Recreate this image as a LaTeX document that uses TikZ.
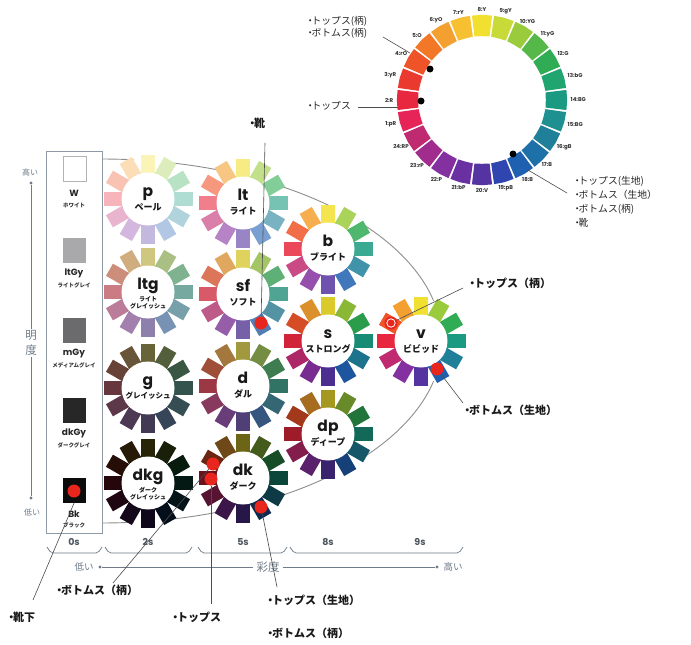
\documentclass[tikz,border=0pt]{standalone}
\usepackage{fontspec}
\setmainfont{Noto Sans CJK JP}
\newfontfamily\popf{Poppins}
\usetikzlibrary{calc}

\definecolor{h1}{HTML}{E62458}
\definecolor{h2}{HTML}{E8283E}
\definecolor{h3}{HTML}{EA3A30}
\definecolor{h4}{HTML}{EE5428}
\definecolor{h5}{HTML}{F27828}
\definecolor{h6}{HTML}{F4A030}
\definecolor{h7}{HTML}{F6C030}
\definecolor{h8}{HTML}{F2E030}
\definecolor{h9}{HTML}{C8DA38}
\definecolor{h10}{HTML}{9ACB3C}
\definecolor{h11}{HTML}{55B848}
\definecolor{h12}{HTML}{30AC55}
\definecolor{h13}{HTML}{20A470}
\definecolor{h14}{HTML}{1A9A80}
\definecolor{h15}{HTML}{1E9090}
\definecolor{h16}{HTML}{20809A}
\definecolor{h17}{HTML}{1E70A8}
\definecolor{h18}{HTML}{2060B0}
\definecolor{h19}{HTML}{2F45B0}
\definecolor{h20}{HTML}{5533A0}
\definecolor{h21}{HTML}{6A2FA0}
\definecolor{h22}{HTML}{8530A0}
\definecolor{h23}{HTML}{A02C8E}
\definecolor{h24}{HTML}{C02A70}
\definecolor{dotred}{HTML}{E8261E}
\definecolor{axisgray}{HTML}{6E7B88}
\definecolor{panelgray}{HTML}{8E9AA6}
\definecolor{linegray}{HTML}{8E8E8E}

\newcommand\mydot{\kern-0.3em・\kern-0.35em}

% #1 name, #2 centre, #3 colour mix, #4 tone name, #5 tone subtitle, #6 subtitle style
\newcommand\tonewheel[6]{%
  \fill[white] #2 circle (42);
  \foreach \k in {2,4,...,24}{%
    \pgfmathsetmacro\ang{180-(\k-2)*15}%
    \fill[fill=h\k#3, shift={#2}, rotate=\ang] (18,-7) rectangle (44.5,7);
  }%
  \fill[white] #2 circle (26.5);
  \node[tonename] (#1) at ($#2+(0,-3)$) {#4};
  \node[#6] (#1-s) at ($#2+(0,8)$) {#5};
}

\begin{document}
\begin{tikzpicture}[x=1pt,y=-1pt,
  tonename/.style={anchor=base, inner sep=0pt, text=black!90, font=\popf\bfseries\fontsize{15.5}{15}\selectfont},
  tonesub/.style={inner sep=0pt, text=black!90, font=\bfseries\fontsize{9}{9}\selectfont},
  tonesubg/.style={inner sep=0pt, text=black!90, font=\bfseries\fontsize{7.5}{8}\selectfont},
  tonesubb/.style={inner sep=0pt, align=center, yshift=-3pt, text=black!90, font=\bfseries\fontsize{6}{7}\selectfont},
  callout/.style={anchor=west, inner sep=0pt, text=black!90, font=\bfseries\fontsize{11}{12}\selectfont},
  smallcall/.style={inner sep=0pt, align=left, text=black!85, font=\fontsize{9.8}{14}\selectfont},
  leader/.style={draw=black!70, line width=0.6pt},
  reddot/.style={circle, fill=dotred, minimum size=13pt, inner sep=0pt},
  ringdot/.style={circle, fill=black, minimum size=7pt, inner sep=0pt},
  ringlbl/.style={inner sep=0.5pt, text=black!80, font=\popf\bfseries\fontsize{5.5}{6}\selectfont},
  swatch/.style={minimum width=23pt, minimum height=25pt, inner sep=0pt},
  swname/.style={inner sep=0pt, text=black!85, font=\popf\bfseries\fontsize{9}{10}\selectfont},
  swsub/.style={inner sep=0pt, text=black!80, font=\bfseries\fontsize{5.5}{6}\selectfont},
  axis/.style={draw=axisgray, line width=0.7pt},
  axdot/.style={circle, fill=axisgray, minimum size=3.2pt, inner sep=0pt},
  axlab/.style={inner sep=0pt, text=axisgray, font=\fontsize{8}{9}\selectfont},
  axbig/.style={inner sep=3pt, text=axisgray, font=\fontsize{11.5}{12}\selectfont},
  slab/.style={inner sep=0pt, text=axisgray!70!black, font=\popf\bfseries\fontsize{9.5}{10}\selectfont},
]
\useasboundingbox (0,0) rectangle (691,645);
\fill[white] (0,0) rectangle (691,645);

% ---- tone area outline (half ellipse)
\draw[linegray, line width=0.9pt] plot[domain=-90:90, samples=90, smooth] ({102+340*cos(\x)},{341+182*sin(\x)});

% ---- left panel
\draw[panelgray, line width=0.8pt] (46,151) rectangle (102,533);

% ---- tone wheels
\tonewheel{p}{(148,199)}{!35!white}{p}{ペール}{tonesub}
\tonewheel{lt}{(243,203)}{!60!white}{lt}{ライト}{tonesub}
\tonewheel{ltg}{(148,292)}{!55!gray!75!white}{ltg}{ライト\\グレイッシュ}{tonesubb}
\tonewheel{sf}{(243,294)}{!78!gray!85!white}{sf}{ソフト}{tonesub}
\tonewheel{g}{(148,388)}{!40!gray!60!black}{g}{グレイッシュ}{tonesubg}
\tonewheel{d}{(243,386)}{!65!gray!80!black}{d}{ダル}{tonesub}
\tonewheel{dkg}{(148,483)}{!16!black}{dkg}{ダーク\\グレイッシュ}{tonesubb}
\tonewheel{dk}{(243,478)}{!45!black}{dk}{ダーク}{tonesub}
\tonewheel{b}{(328,249)}{!85!white}{b}{ブライト}{tonesub}
\tonewheel{s}{(328,341)}{!90!black}{s}{ストロング}{tonesub}
\tonewheel{dp}{(328,434)}{!68!black}{dp}{ディープ}{tonesub}
\tonewheel{v}{(421,341)}{}{v}{ビビッド}{tonesub}

% ---- hue ring
\coordinate (ring) at (482,100);
\foreach \i/\lab in {1/1:pR,2/2:R,3/3:yR,4/4:rO,5/5:O,6/6:yO,7/7:rY,8/8:Y,9/9:gY,10/10:YG,11/11:yG,12/12:G,13/13:bG,14/14:BG,15/15:BG,16/16:gB,17/17:B,18/18:B,19/19:pB,20/20:V,21/21:bP,22/22:P,23/23:rP,24/24:RP}{
  \pgfmathsetmacro\ph{(\i-2)*15-180}
  \pgfmathtruncatemacro\an{180-\ph}
  \fill[fill=h\i] ($(ring)+(\ph-6.8:64)$) -- ($(ring)+(\ph-6.8:85)$) -- ($(ring)+(\ph:85.2)$) -- ($(ring)+(\ph+6.8:85)$) -- ($(ring)+(\ph+6.8:64)$) -- ($(ring)+(\ph:63.8)$) -- cycle;
  \node[ringlbl, anchor=\an] (rl\i) at ($(ring)+(\ph:88)$) {\lab};
}
\node[ringdot] (rdA) at (430,69) {};
\node[ringdot] (rdB) at (421,101) {};
\node[ringdot] (rdC) at (513,154) {};

% ---- swatches
\node[swatch, fill=white, draw=gray!60, line width=0.6pt] (W) at (74.5,169) {};
\node[swatch, fill={rgb,255:red,169;green,169;blue,171}] (ltGy) at (74.5,250) {};
\node[swatch, fill={rgb,255:red,107;green,107;blue,109}] (mGy) at (74.5,330.5) {};
\node[swatch, fill={rgb,255:red,39;green,39;blue,39}] (dkGy) at (74,410.5) {};
\node[swatch, fill={rgb,255:red,12;green,12;blue,12}] (Bk) at (74,490.5) {};
\node[swname] (W-n) at (74,193) {W};
\node[swsub] (W-s) at (74,205) {ホワイト};
\node[swname] (ltGy-n) at (74,273) {ltGy};
\node[swsub] (ltGy-s) at (74,285) {ライトグレイ};
\node[swname] (mGy-n) at (74,353) {mGy};
\node[swsub] (mGy-s) at (74,365) {メディアムグレイ};
\node[swname] (dkGy-n) at (74,433) {dkGy};
\node[swsub] (dkGy-s) at (74,445) {ダークグレイ};
\node[swname] (Bk-n) at (74,514) {Bk};
\node[swsub] (Bk-s) at (74,525) {ブラック};

% ---- vertical axis (lightness)
\node[axdot] (ytop) at (31,183) {};
\node[axdot] (ybot) at (31,498) {};
\node[axbig, inner sep=1pt] (mei) at (31,335) {明};
\node[axbig, inner sep=1pt] (dou) at (31,350) {度};
\draw[axis] (ytop) -- (mei);
\draw[axis] (dou) -- (ybot);
\node[axlab] (yhi) at (30,172) {高い};
\node[axlab] (ylo) at (32,512) {低い};

% ---- chroma scale
\node[slab] (s0) at (74,542) {0s};
\node[slab] (s2) at (148,542) {2s};
\node[slab] (s5) at (243,542) {5s};
\node[slab] (s8) at (328,542) {8s};
\node[slab] (s9) at (420,542) {9s};
\foreach \a/\b in {47/102,105/192,198/287,290/463}{
  \draw[axis, rounded corners=2pt] (\a,547) -- (\a+4,553) -- (\b-4,553) -- (\b,547);
}
\node[axdot] (xlo) at (100,567) {};
\node[axbig] (sai) at (268,567) {彩度};
\node[axdot] (xhi) at (437,567) {};
\draw[axis] (xlo) -- (sai) -- (xhi);
\node[axlab, font=\fontsize{9.5}{10}\selectfont] (xlol) at (84,567) {低い};
\node[axlab, font=\fontsize{9.5}{10}\selectfont] (xhil) at (453,567) {高い};

% ---- red marks
\node[reddot] (BkD) at (74,491) {};
\node[reddot] (sfB) at (261,323) {};
\node[reddot] (vrO) at (391,323) {};
\draw[white, line width=0.8pt] (vrO.center) circle (4.2);
\node[reddot] (vB) at (437,369) {};
\node[reddot] (dkrO) at (213,464) {};
\node[reddot] (dkR) at (211,479) {};
\node[reddot] (dkB) at (261,507) {};

% ---- callout labels
\node[callout] (c-kutsu) at (250,123) {\mydot 靴};
\node[callout] (c-vtop) at (470,283) {\mydot トップス（柄）};
\node[callout] (c-vbot) at (465,410) {\mydot ボトムス（生地）};
\node[callout] (c-dktop) at (268,600) {\mydot トップス（生地）};
\node[callout] (c-dkbot) at (268,633) {\mydot ボトムス（柄）};
\node[callout] (c-tops) at (173,617) {\mydot トップス};
\node[callout] (c-bot) at (57,590) {\mydot ボトムス（柄）};
\node[callout] (c-sock) at (9,617) {\mydot 靴下};
\node[smallcall, anchor=north west] (r-a) at (308,16) {\mydot トップス(柄)\\[-1.5pt]\mydot ボトムス(柄)};
\node[smallcall, anchor=west] (r-b) at (308,106) {\mydot トップス};
\node[smallcall, anchor=north west] (r-c) at (575,176) {\mydot トップス(生地)\\\mydot ボトムス（生地）\\\mydot ボトムス(柄)\\\mydot 靴};

% ---- leader lines
\coordinate (l-kutsu) at (265,143);
\coordinate (l-vtop) at (463,288);
\coordinate (l-vbot) at (463,403);
\coordinate (l-dktop) at (277,587);
\coordinate (l-tops) at (211,604);
\coordinate (l-bot) at (113,583);
\coordinate (l-sock) at (33,600);
\coordinate (l-ra1) at (383,37);
\coordinate (l-ra2) at (410,53);
\coordinate (l-rb1) at (358,107);
\coordinate (l-rb2) at (398,107);
\coordinate (l-rc1) at (528,170);
\coordinate (l-rc2) at (567,193);
\draw[leader] (l-kutsu) -- (sfB);
\draw[leader] (l-vtop) -- (vrO);
\draw[leader] (l-vbot) -- (vB);
\draw[leader] (l-dktop) -- (dkB);
\draw[leader] (l-tops) -- (dkR);
\draw[leader] (l-bot) -- (dkrO);
\draw[leader] (l-sock) -- (Bk.south);
\draw[leader] (l-ra1) -- (l-ra2);
\draw[leader] (l-rb1) -- (l-rb2);
\draw[leader] (l-rc1) -- (l-rc2);
\end{tikzpicture}
\end{document}
